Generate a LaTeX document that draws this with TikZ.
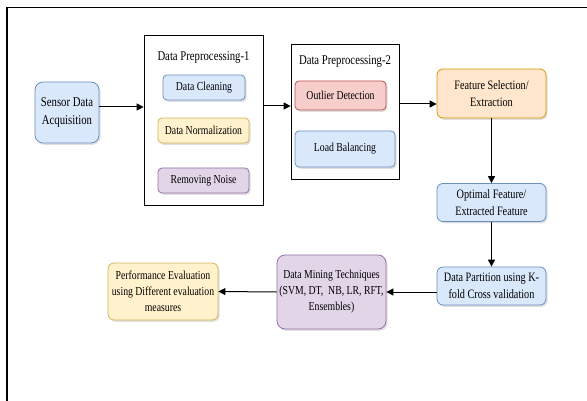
\documentclass[tikz,border=0pt]{standalone}
\usepackage{fontspec}
\setmainfont{Liberation Serif}[FakeStretch=0.8]
\usepackage{tikz}
\usetikzlibrary{arrows.meta,shadows}
\definecolor{blueF}{HTML}{DAE8FC}\definecolor{blueD}{HTML}{6C8EBF}
\definecolor{yellowF}{HTML}{FFF2CC}\definecolor{yellowD}{HTML}{D6B656}
\definecolor{purpleF}{HTML}{E1D5E7}\definecolor{purpleD}{HTML}{9673A6}
\definecolor{redF}{HTML}{F8CECC}\definecolor{redD}{HTML}{B85450}
\definecolor{orangeF}{HTML}{FFE6CC}\definecolor{orangeD}{HTML}{D79B00}
\tikzstyle{box}=[rectangle, rounded corners=6pt, line width=0.8pt, inner sep=0pt, align=center,
  font=\fontsize{12.8}{16.8}\selectfont,
  drop shadow={opacity=0.25, shadow xshift=1.6pt, shadow yshift=-1.8pt}]
\tikzstyle{item}=[box, rounded corners=4pt, font=\fontsize{12.2}{17}\selectfont]
\tikzstyle{stage}=[draw, line width=0.7pt, fill=white, inner sep=0pt,
  drop shadow={opacity=0.2, shadow xshift=1pt, shadow yshift=-1pt}]
\tikzstyle{heading}=[font=\fontsize{13.4}{17}\selectfont]
\tikzstyle{flow}=[draw, line width=1pt, -{Triangle[length=7pt,width=7pt]}]
\tikzstyle{blue}=[fill=blueF, draw=blueD]
\tikzstyle{yellow}=[fill=yellowF, draw=yellowD]
\tikzstyle{purple}=[fill=purpleF, draw=purpleD]
\tikzstyle{red}=[fill=redF, draw=redD]
\tikzstyle{orange}=[fill=orangeF, draw=orangeD]
\begin{document}
\begin{tikzpicture}[x=1pt, y=-1pt]
		\useasboundingbox (0,0) rectangle (587,401);
		% outer frame, only left and top edges show
		\draw[line width=1.2pt] (7,401) -- (7,7.5) -- (587,7.5);
		
		% the two preprocessing stages
		\node[stage, minimum width=119pt, minimum height=170pt] (dpA) at (203.5,120) {};
		\node[heading] (dpAtitle) at (203.5,58) {Data Preprocessing-1};
		\node[stage, minimum width=108pt, minimum height=135pt] (dpB) at (345,111.5) {};
		\node[heading] (dpBtitle) at (345,62) {Data Preprocessing-2};
		
		% steps inside the stages
		\foreach \pos/\label/\col/\w/\h/\name in {
			{(204,87.5)/clean/blue/82/25/Data Cleaning},
			{(203.5,130.5)/norm/yellow/91/25/Data Normalization},
			{(203.5,180.5)/noise/purple/91/25/Removing Noise},
			{(340.5,95.5)/outlier/red/91/29/Outlier Detection},
			{(345,149)/load/blue/100/36/Load Balancing}}
		\node[item, \col, minimum width=\w pt, minimum height=\h pt] (\label) at \pos {\name};
		
		% main blocks
		\node[box, blue, rounded corners=8pt, minimum width=64pt, minimum height=61pt, font=\fontsize{13.4}{18.5}\selectfont] (sensor) at (67,112.5) {Sensor Data\\Acquisition};
		\node[box, orange, minimum width=109pt, minimum height=49pt] (feat) at (491.5,93.5) {Feature Selection/\\Extraction};
		\node[box, blue, minimum width=109pt, minimum height=38pt] (optimal) at (491.5,202.5) {Optimal Feature/\\Extracted Feature};
		\node[box, blue, minimum width=109pt, minimum height=38pt] (partition) at (491.5,286) {Data Partition using K-\\fold Cross validation};
		\node[box, purple, rounded corners=8pt, minimum width=109pt, minimum height=74pt, font=\fontsize{12.2}{16}\selectfont] (mining) at (331.5,292) {Data Mining Techniques\\(SVM, DT,\ \ NB, LR, RFT,\\Ensembles)};
		\node[box, yellow, minimum width=110pt, minimum height=57pt, font=\fontsize{12.2}{16}\selectfont] (perf) at (163,291.5) {Performance Evaluation\\using Different evaluation\\measures};
		
		% connect blocks
		\path[flow] ([yshift=5.5pt]sensor.east) -- ([yshift=5.5pt]sensor.east -| dpA.west);
		\path[flow] ([yshift=14pt]dpA.east) -- ([yshift=14pt]dpA.east -| dpB.west);
		\path[flow] ([yshift=7.5pt]dpB.east) -- ([yshift=7.5pt]dpB.east -| feat.west);
		\foreach \source/ \dest in {
			feat/optimal, optimal/partition}
		\path[flow] (\source.south) -- (\dest.north);
		\path[flow] (mining.east -| partition.west) -- (mining.east);
		\path[flow] (mining.west) -- (perf.east);
\end{tikzpicture}
\end{document}
